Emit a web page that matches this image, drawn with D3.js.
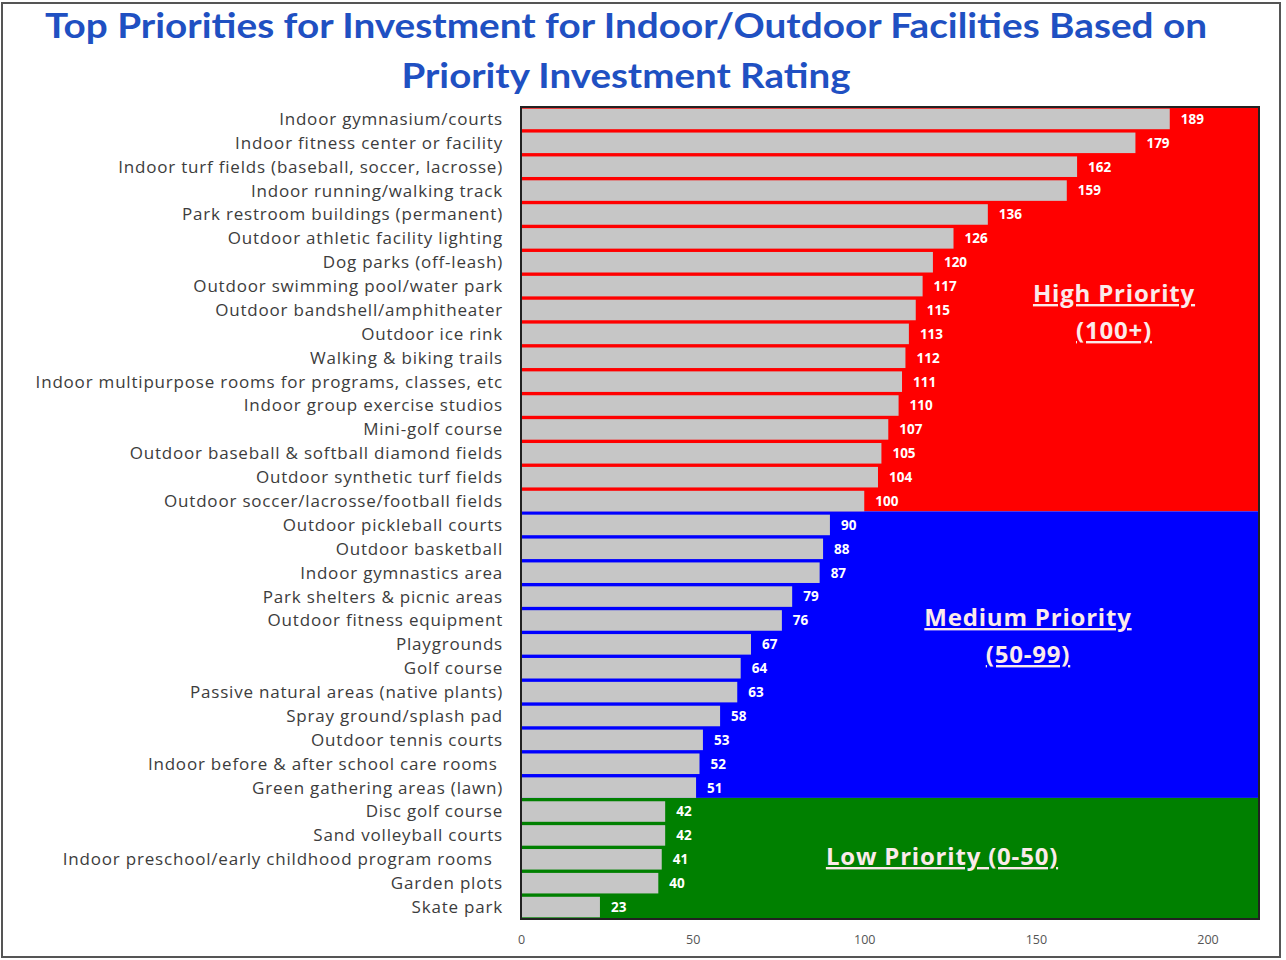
<!DOCTYPE html>
<html><head><meta charset="utf-8">
<script src="https://cdn.jsdelivr.net/npm/d3@7"></script>
<style>body{margin:0;background:#fff}svg{display:block}</style>
</head><body>
<script>
const categories = [
  "Indoor gymnasium/courts","Indoor fitness center or facility","Indoor turf fields (baseball, soccer, lacrosse)",
  "Indoor running/walking track","Park restroom buildings (permanent)","Outdoor athletic facility lighting",
  "Dog parks (off-leash)","Outdoor swimming pool/water park","Outdoor bandshell/amphitheater","Outdoor ice rink",
  "Walking & biking trails","Indoor multipurpose rooms for programs, classes, etc","Indoor group exercise studios",
  "Mini-golf course","Outdoor baseball & softball diamond fields","Outdoor synthetic turf fields",
  "Outdoor soccer/lacrosse/football fields","Outdoor pickleball courts","Outdoor basketball","Indoor gymnastics area",
  "Park shelters & picnic areas","Outdoor fitness equipment","Playgrounds","Golf course",
  "Passive natural areas (native plants)","Spray ground/splash pad","Outdoor tennis courts",
  "Indoor before & after school care rooms ","Green gathering areas (lawn)","Disc golf course",
  "Sand volleyball courts","Indoor preschool/early childhood program rooms  ","Garden plots","Skate park"
];
const values = [189,179,162,159,136,126,120,117,115,113,112,111,110,107,105,104,100,90,88,87,79,76,67,64,63,58,53,52,51,42,42,41,40,23];
const xTicks = [0,50,100,150,200];
const xMax = 215;
const zoneNames = ["High Priority","Medium Priority","Low Priority (0-50)"];
const zoneSub = ["(100+)","(50-99)",""];
const zoneMin = [100,50,0];
const zoneColors = ["#ff0000","#0000ff","#008000"];
const titleLines = ["Top Priorities for Investment for Indoor/Outdoor Facilities Based on","Priority Investment Rating"];

const W=1286,H=960;
const svg=d3.select("body").append("svg").attr("width",W).attr("height",H);
svg.append("rect").attr("x",2).attr("y",3).attr("width",1278).attr("height",954)
  .attr("fill","#fff").attr("stroke","#555").attr("stroke-width",2);

const m={left:521,top:107,right:1259,bottom:919};
const w=m.right-m.left,h=m.bottom-m.top;
const g=svg.append("g").attr("transform",`translate(${m.left},${m.top})`);
const x=d3.scaleLinear().domain([0,xMax]).range([0,w]);
const y=d3.scaleBand().domain(categories).range([0,h]).paddingInner(0.14).paddingOuter(0.07);
const gap=y.step()-y.bandwidth();

// zone backgrounds
const zoneOf=v=>zoneMin.findIndex(mn=>v>=mn);
const zones=zoneNames.map((n,i)=>{
  const idx=categories.map((c,j)=>j).filter(j=>zoneOf(values[j])===i);
  const first=idx[0],last=idx[idx.length-1];
  const top=i===0?0:y(categories[first])-gap;
  const bot=i===zoneNames.length-1?h:y(categories[last])+y.bandwidth();
  return {i,top,bot};
});
g.selectAll("rect.zone").data(zones).join("rect").attr("class","zone")
  .attr("x",0).attr("width",w).attr("y",d=>d.top).attr("height",d=>d.bot-d.top)
  .attr("fill",d=>zoneColors[d.i]);

// bars
g.selectAll("rect.bar").data(values).join("rect").attr("class","bar")
  .attr("x",0).attr("y",(d,i)=>y(categories[i])).attr("height",y.bandwidth())
  .attr("width",d=>x(d)).attr("fill","#c6c6c6");

// value labels
g.selectAll("text.val").data(values).join("text").attr("class","val")
  .attr("x",d=>x(d)+11).attr("y",(d,i)=>y(categories[i])+y.bandwidth()/2)
  .attr("dy","0.36em").attr("fill","#fff").attr("font-family","Open Sans").attr("font-weight","bold")
  .attr("font-size",13.5).text(d=>d);

// plot border
g.append("rect").attr("width",w).attr("height",h).attr("fill","none").attr("stroke","#222").attr("stroke-width",2);

// category labels
g.selectAll("text.cat").data(categories).join("text").attr("class","cat")
  .attr("x",-18).attr("y",d=>y(d)+y.bandwidth()/2).attr("dy","0.35em")
  .attr("text-anchor","end").style("white-space","pre").style("letter-spacing","0.8px")
  .attr("font-family","Open Sans").attr("font-size",17).attr("fill","#3c3c3c").text(d=>d);

// x axis
const ax=g.append("g").attr("transform",`translate(0,${h})`)
  .call(d3.axisBottom(x).tickValues(xTicks).tickSize(0).tickPadding(16));
ax.select(".domain").remove();
ax.selectAll("text").attr("font-family","Open Sans").attr("font-size",12.5).attr("fill","#555");

// zone annotations
const annX=[593,507,421];
const annY=[195,519,758];
zoneNames.forEach((n,i)=>{
  g.append("text").attr("x",annX[i]).attr("y",annY[i]).attr("text-anchor","middle")
    .attr("font-family","Open Sans").attr("font-weight","bold").attr("font-size",24)
    .style("letter-spacing","0.8px")
    .attr("fill","#fbeaea").attr("text-decoration","underline").text(n);
  if(zoneSub[i]) g.append("text").attr("x",annX[i]).attr("y",annY[i]+37).attr("text-anchor","middle")
    .attr("font-family","Open Sans").attr("font-weight","bold").attr("font-size",24)
    .style("letter-spacing","0.8px")
    .attr("fill","#fbeaea").attr("text-decoration","underline").text(zoneSub[i]);
});

// title
const titleW=[1162,449];
titleLines.forEach((t,i)=>{
  svg.append("text").attr("x",626).attr("y",38+i*50).attr("text-anchor","middle")
    .attr("font-family","Lato").attr("font-weight","bold").attr("font-size",35)
    .attr("textLength",titleW[i]).attr("lengthAdjust","spacingAndGlyphs")
    .attr("fill","#1f50c2").text(t);
});
</script>
</body></html>
